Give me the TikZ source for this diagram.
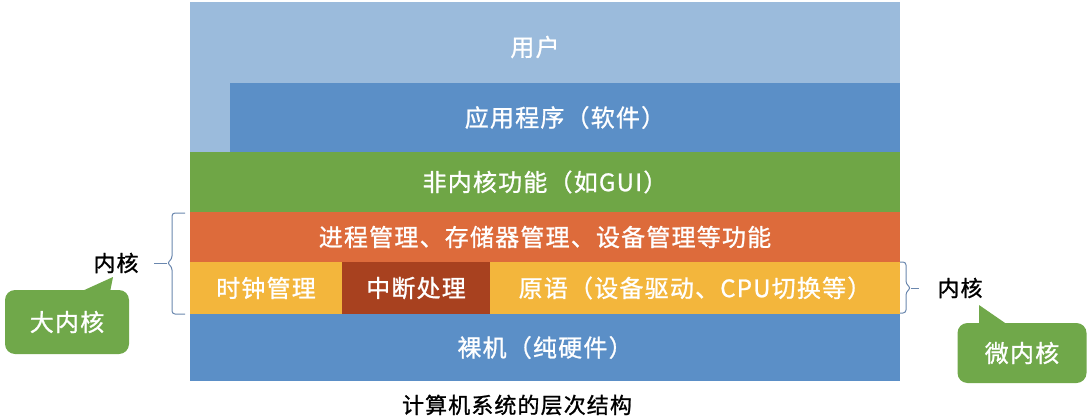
\documentclass[tikz,border=0pt]{standalone}
\usepackage{fontspec}
\setmainfont{Noto Sans CJK SC}[LetterSpace=5, FakeBold=1]
\usepackage{xcolor}
\usetikzlibrary{positioning}
\definecolor{userblue}{HTML}{9BBBDC}
\definecolor{appblue}{HTML}{5B8FC7}
\definecolor{nkgreen}{HTML}{6FA646}
\definecolor{kernorange}{HTML}{DD6B3B}
\definecolor{kernyellow}{HTML}{F3B63C}
\definecolor{intrred}{HTML}{A8411F}
\definecolor{bracegray}{HTML}{6A87AE}
\definecolor{tipgreen}{HTML}{70A84A}
\newcommand{\barfont}{\fontsize{24}{28}\selectfont}
\newcommand{\capfont}{\fontsize{22}{26}\selectfont}

\begin{document}
\begin{tikzpicture}[
      x=1pt, y=-1pt,
      layer/.style={minimum width=710pt, inner sep=0pt, outer sep=0pt,
                    text=white, font=\barfont, anchor=north west},
      kbrace/.style={draw=bracegray, line width=1pt, rounded corners=3pt},
      tipbox/.style={fill=tipgreen, rounded corners=10pt, text=white,
                     font=\barfont, inner sep=0pt},
      kernlbl/.style={font=\capfont, text=black}
    ]
    \useasboundingbox (0,0) rectangle (1089,417);

    % layers, top to bottom
    \node[layer, fill=userblue, minimum height=150pt] (user) at (190,2) {};
    \node[layer, fill=appblue, minimum width=670pt, minimum height=69pt,
          anchor=south east] (app) at (user.south east) {应用程序（软件）};
    \node[text=white, font=\barfont] (userlbl) at (535,47) {用户};
    \node[layer, fill=nkgreen, minimum height=60pt, below=0pt of user] (nonkernel) {非内核功能（如GUI）};
    \node[layer, fill=kernorange, minimum height=50pt, below=0pt of nonkernel] (mgmt)
      {进程管理、存储器管理、设备管理等功能};
    \node[layer, fill=kernyellow, minimum width=152pt, minimum height=52pt,
          below=0pt of mgmt.south west, anchor=north west] (clock) {时钟管理};
    \node[layer, fill=intrred, minimum width=148pt, minimum height=52pt,
          right=0pt of clock] (intr) {中断处理};
    \node[layer, fill=kernyellow, minimum width=410pt, minimum height=52pt,
          right=0pt of intr] (prim) {原语（设备驱动、CPU切换等）};
    \node[layer, fill=appblue, minimum height=67pt,
          below=0pt of clock.south west, anchor=north west] (bare) {裸机（纯硬件）};
    \node[font=\capfont] (caption) at (517,405) {计算机系统的层次结构};

    % big kernel brace
    \node[kernlbl] (kernL) at (116,263) {内核};
    \coordinate (ltip) at (167,263);
    \draw[kbrace] (185,213) -- (172,213) -- (172,259) -- (ltip) -- (172,267)
      -- (172,314) -- (185,314);
    \draw[kbrace, shorten >=12pt] (ltip) -- (kernL.east);

    % micro kernel brace
    \node[kernlbl] (kernR) at (960,288) {内核};
    \coordinate (rtip) at (911,288);
    \draw[kbrace] (900,262) -- (906,262) -- (906,284) -- (rtip) -- (906,292)
      -- (906,313) -- (900,313);
    \draw[kbrace, shorten >=15pt] (rtip) -- (kernR.west);

    % callouts
    \node[tipbox, minimum width=124pt, minimum height=64pt] (bigk) at (67,322) {大内核};
    \fill[tipgreen] (80,292) -- (113,277) -- (110,292) -- cycle;
    \node[tipbox, minimum width=129pt, minimum height=60pt] (microk) at (1022,353) {微内核};
    \fill[tipgreen] (979,325) -- (979,305) -- (1008,325) -- cycle;
  \end{tikzpicture}
\end{document}
